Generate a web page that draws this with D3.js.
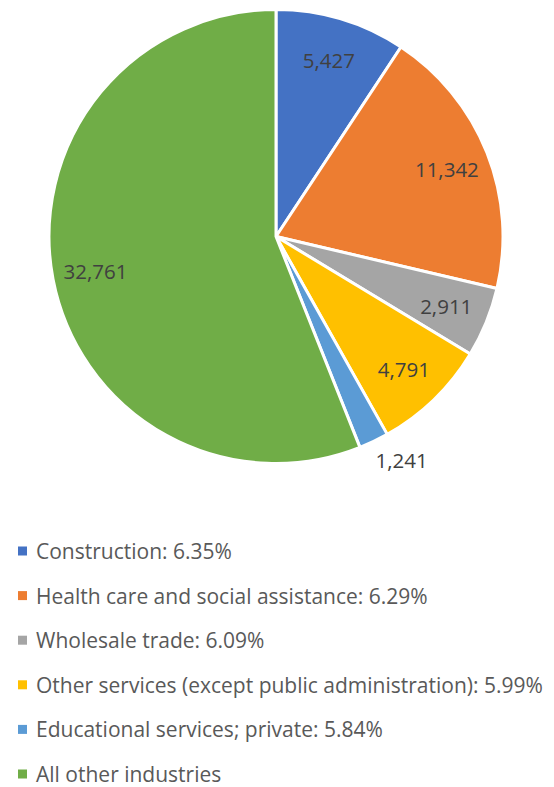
<!DOCTYPE html>
<html>
<head>
<meta charset="utf-8">
<script src="https://cdn.jsdelivr.net/npm/d3@7"></script>
<style>
  html, body { margin: 0; padding: 0; background: #fff; }
  svg { display: block; }
</style>
</head>
<body>
<svg id="chart" width="554" height="787"></svg>
<script>
// Industry categories and their counts
const categories = [
  "Construction",
  "Health care and social assistance",
  "Wholesale trade",
  "Other services (except public administration)",
  "Educational services; private",
  "All other industries"
];
const values = [5427, 11342, 2911, 4791, 1241, 32761];
const shares = ["6.35%", "6.29%", "6.09%", "5.99%", "5.84%", null];
const colors = ["#4472C4", "#ED7D31", "#A5A5A5", "#FFC000", "#5B9BD5", "#70AD47"];

const font = "'Open Sans', Lato, sans-serif";
const svg = d3.select("#chart");

const cx = 276, cy = 236.5, radius = 227;
const data = categories.map((name, i) => ({ name, value: values[i], share: shares[i], color: colors[i] }));

const pie = d3.pie().value(d => d.value).sort(null);
const arcs = pie(data);
const arc = d3.arc().innerRadius(0).outerRadius(radius);

const g = svg.append("g").attr("transform", `translate(${cx},${cy})`);

g.selectAll("path.slice")
  .data(arcs)
  .join("path")
  .attr("class", "slice")
  .attr("d", arc)
  .attr("fill", d => d.data.color)
  .attr("stroke", "#fff")
  .attr("stroke-width", 3)
  .attr("stroke-linejoin", "round");

// Value labels: inside for wide slices, outside for narrow ones
const fmt = d3.format(",");
const labelArc = d3.arc().innerRadius(radius * 0.81).outerRadius(radius * 0.81);
g.selectAll("text.value")
  .data(arcs)
  .join("text")
  .attr("class", "value")
  .attr("transform", d => {
    const span = d.endAngle - d.startAngle;
    if (span < 0.2) {
      const r = radius * 1.13, a = d.startAngle;
      return `translate(${r * Math.sin(a)},${-r * Math.cos(a)})`;
    }
    return `translate(${labelArc.centroid(d)})`;
  })
  .attr("text-anchor", "middle")
  .attr("dominant-baseline", "central")
  .attr("font-family", font)
  .attr("font-size", 20.5)
  .attr("fill", "#404040")
  .text(d => fmt(d.data.value));

// Legend
const legend = svg.append("g").attr("transform", "translate(18,551)");
const rows = legend.selectAll("g.item")
  .data(data)
  .join("g")
  .attr("class", "item")
  .attr("transform", (d, i) => `translate(0,${i * 44.6})`);

rows.append("rect")
  .attr("x", 0).attr("y", -4.5)
  .attr("width", 9).attr("height", 9)
  .attr("fill", d => d.color);

rows.append("text")
  .attr("x", 18)
  .attr("dominant-baseline", "central")
  .attr("font-family", font)
  .attr("font-size", 21)
  .attr("fill", "#595959")
  .text(d => d.share ? `${d.name}: ${d.share}` : d.name);
</script>
</body>
</html>
